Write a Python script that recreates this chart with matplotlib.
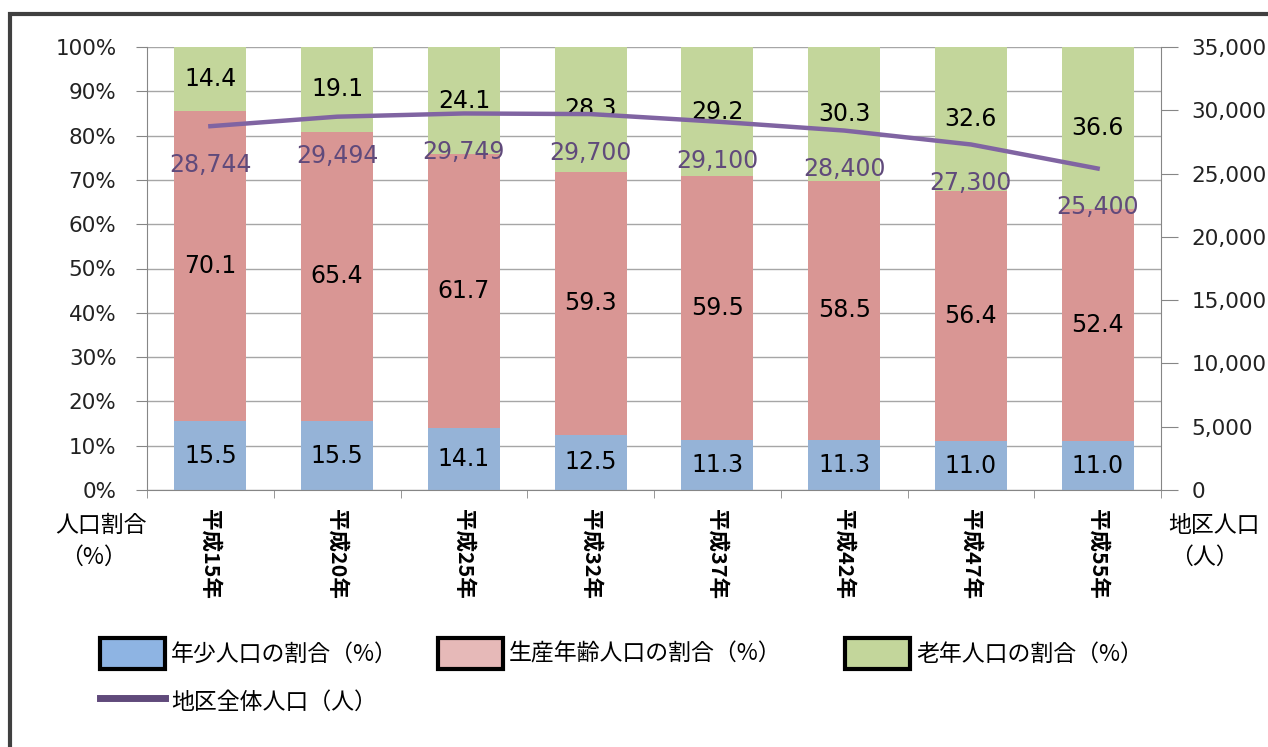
import numpy as np
import matplotlib
matplotlib.use("Agg")
from matplotlib import pyplot as plt
from matplotlib.patches import Patch, Rectangle
from matplotlib.lines import Line2D
from matplotlib.ticker import FuncFormatter, FixedLocator

plt.rcParams['font.family'] = ['DejaVu Sans', 'Noto Sans CJK JP']

years = ['平成15年', '平成20年', '平成25年', '平成32年', '平成37年', '平成42年', '平成47年', '平成55年']
young = [15.5, 15.5, 14.1, 12.5, 11.3, 11.3, 11.0, 11.0]
working = [70.1, 65.4, 61.7, 59.3, 59.5, 58.5, 56.4, 52.4]
elderly = [14.4, 19.1, 24.1, 28.3, 29.2, 30.3, 32.6, 36.6]
population = [28744, 29494, 29749, 29700, 29100, 28400, 27300, 25400]

c_young = '#95B3D7'
c_work = '#D99694'
c_old = '#C3D69B'
c_line = '#8064A2'
c_lbl = '#604A7B'

W, H = 1268, 747
fig = plt.figure(figsize=(W / 100, H / 100), dpi=100)
ax = fig.add_axes([147 / W, 1 - 490 / H, (1161 - 147) / W, (490 - 47) / H])
ax2 = ax.twinx()

x = np.arange(len(years))
bw = 0.57
young = np.array(young)
working = np.array(working)
elderly = np.array(elderly)
ax.bar(x, young, bw, color=c_young, zorder=2)
ax.bar(x, working, bw, bottom=young, color=c_work, zorder=2)
ax.bar(x, elderly, bw, bottom=young + working, color=c_old, zorder=2)

for i in range(len(x)):
    ax.text(x[i], young[i] / 2, f'{young[i]:.1f}', ha='center', va='center', fontsize=17, zorder=3)
    ax.text(x[i], young[i] + working[i] / 2, f'{working[i]:.1f}', ha='center', va='center', fontsize=17, zorder=3)
    ax.text(x[i], young[i] + working[i] + elderly[i] / 2, f'{elderly[i]:.1f}', ha='center', va='center',
            fontsize=17, zorder=3)

ax.set_xlim(-0.5, len(x) - 0.5)
ax.set_ylim(0, 100)
ax.set_yticks(np.arange(0, 101, 10))
ax.yaxis.set_major_formatter(FuncFormatter(lambda v, p: f'{v:.0f}%'))
ax.grid(axis='y', color='#A6A6A6', lw=1, zorder=0)
ax.set_axisbelow(True)

ax.set_xticks(x)
ax.set_xticklabels(years, rotation=270, fontsize=15.5, fontweight='bold', family=['Noto Sans CJK JP'],
                   va='top')
ax.tick_params(axis='x', length=0, pad=14)
ax.xaxis.set_minor_locator(FixedLocator(np.arange(-0.5, len(x), 1)))
ax.tick_params(axis='x', which='minor', length=6, color='#868686')
ax.tick_params(axis='y', labelsize=15.5, length=8, color='#868686', labelcolor='#222222', pad=14)

for s in ['top', 'right']:
    ax.spines[s].set_visible(False)
ax.spines['left'].set_color('#868686')
ax.spines['bottom'].set_color('#868686')

ax2.plot(x, population, color=c_line, lw=3.2, zorder=4)
for i in range(len(x)):
    ax2.annotate(f'{population[i]:,}', (x[i], population[i]), xytext=(0, -28), textcoords='offset points',
                 ha='center', va='center', fontsize=17, color=c_lbl)
ax2.set_ylim(0, 35000)
ax2.set_yticks(np.arange(0, 35001, 5000))
ax2.yaxis.set_major_formatter(FuncFormatter(lambda v, p: f'{v:,.0f}'))
ax2.tick_params(axis='y', labelsize=15.5, length=12, color='#868686', labelcolor='#222222', pad=10)
for s in ['top', 'left', 'bottom']:
    ax2.spines[s].set_visible(False)
ax2.spines['right'].set_color('#868686')

fig.text(55 / W, 1 - 525 / H, '人口割合', fontsize=16.5, family=['Noto Sans CJK JP'], va='center')
fig.text(60 / W, 1 - 557 / H, '（%）', fontsize=16.5, family=['Noto Sans CJK JP'], va='center')
fig.text(1168 / W, 1 - 525 / H, '地区人口', fontsize=16.5, family=['Noto Sans CJK JP'], va='center')
fig.text(1170 / W, 1 - 557 / H, '（人）', fontsize=16.5, family=['Noto Sans CJK JP'], va='center')

# legend: three columns placed separately
leg_kw = dict(loc='upper left', frameon=False, prop={'family': ['Noto Sans CJK JP'], 'size': 16.5},
              handlelength=2.85, handleheight=1.7, handletextpad=0.25, labelspacing=0.75,
              borderpad=0, borderaxespad=0)
fig.legend([Patch(facecolor='#8EB4E3', edgecolor='black', lw=3),
            Line2D([], [], color='#604A7B', lw=5)],
           ['年少人口の割合（%）', '地区全体人口（人）'],
           bbox_to_anchor=(100 / W, 1 - 638 / H), **leg_kw)
fig.legend([Patch(facecolor='#E6B9B8', edgecolor='black', lw=3)], ['生産年齢人口の割合（%）'],
           bbox_to_anchor=(438 / W, 1 - 638 / H), **leg_kw)
fig.legend([Patch(facecolor=c_old, edgecolor='black', lw=3)], ['老年人口の割合（%）'],
           bbox_to_anchor=(845 / W, 1 - 638 / H), **leg_kw)

fig.patches.append(Rectangle((10 / W, -0.1), 1.2, 1 - 14 / H + 0.1, transform=fig.transFigure,
                             fill=False, edgecolor='#404040', lw=3))

fig.savefig('out.png', dpi=100)
